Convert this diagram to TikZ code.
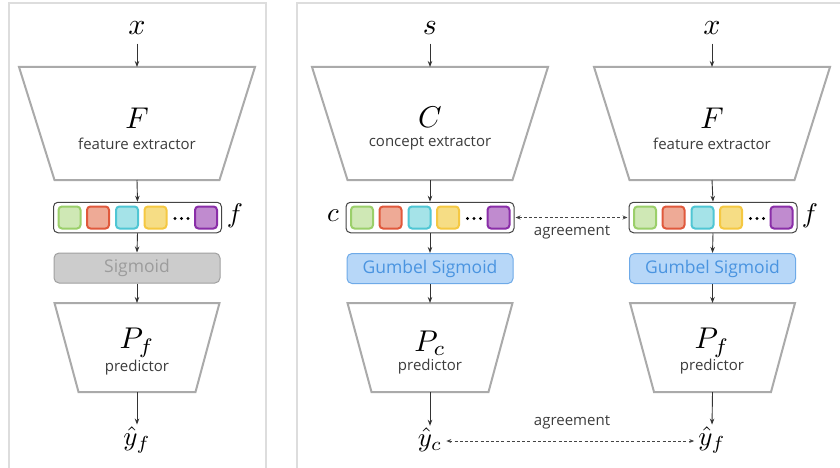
\documentclass[tikz,border=0pt]{standalone}
\usepackage{graphicx}
\usepackage{fontspec}
\setmainfont{Open Sans}
\usetikzlibrary{arrows.meta}
\definecolor{panelc}{HTML}{DDDDDD}
\definecolor{trapc}{HTML}{AAAAAA}
\definecolor{arrowc}{HTML}{333333}
\definecolor{textc}{HTML}{3C3C3C}
\definecolor{boxc}{HTML}{444444}
\definecolor{gfill}{HTML}{CFE8B5}\definecolor{gline}{HTML}{9BCF6A}
\definecolor{rfill}{HTML}{EEAA96}\definecolor{rline}{HTML}{E0593C}
\definecolor{cfill}{HTML}{A5E3E8}\definecolor{cline}{HTML}{4FC6D4}
\definecolor{yfill}{HTML}{F6DD85}\definecolor{yline}{HTML}{F5C842}
\definecolor{pfill}{HTML}{C08BCF}\definecolor{pline}{HTML}{8A2EA8}
\definecolor{sigfill}{HTML}{CCCCCC}\definecolor{sigline}{HTML}{A0A0A0}\definecolor{sigtext}{HTML}{9C9C9C}
\definecolor{gumfill}{HTML}{B7D7F8}\definecolor{gumline}{HTML}{6EAAE8}\definecolor{gumtext}{HTML}{4A94E0}
\newcommand\BigMath[1]{\scalebox{3}{$#1$}}
\newcommand\MidMath[1]{\scalebox{2.7}{$#1$}}
\tikzset{
  arr/.style={-{Stealth[length=6pt,width=4.5pt]}, line width=0.9pt, draw=arrowc},
  dbl/.style={{Stealth[length=5pt,width=4pt]}-{Stealth[length=5pt,width=4pt]}, line width=0.8pt, draw=boxc, dash pattern=on 3pt off 2.2pt},
  trap/.style={draw=trapc, line width=2pt, fill=white, line join=miter},
  mathnode/.style={text=black, inner sep=0pt},
  lbl/.style={font=\fontsize{15}{17}\selectfont, text=textc, inner sep=0pt},
  vecbox/.style={draw=boxc, line width=1pt, rounded corners=4.5pt, minimum width=168pt, minimum height=30.5pt, fill=white, inner sep=0pt},
  sq/.style={rounded corners=3.5pt, line width=2pt, minimum size=22pt, inner sep=0pt},
  sigbox/.style={rounded corners=5pt, line width=1pt, minimum width=166pt, minimum height=30pt, inner sep=0pt, font=\fontsize{17.5}{20}\selectfont},
  plainsig/.style={sigbox, fill=sigfill, draw=sigline, text=sigtext},
  gumsig/.style={sigbox, fill=gumfill, draw=gumline, text=gumtext},
  panel/.style={draw=panelc, line width=1.5pt},
}
\newcommand\trapz[6]{%
  \draw[trap] (#2-#4,#3) -- (#2+#4,#3) -- (#2+#6,#5) -- (#2-#6,#5) -- cycle;
  \coordinate (#1t) at (#2,#3);
  \coordinate (#1b) at (#2,#5);
}
\newcommand\fvec[2]{%
  \node[vecbox] (#1) at (#2,217.5) {};
  \node[sq, fill=gfill, draw=gline] (#1g) at ([xshift=-68pt]#1.center) {};
  \node[sq, fill=rfill, draw=rline] (#1r) at ([xshift=-39.5pt]#1.center) {};
  \node[sq, fill=cfill, draw=cline] (#1c) at ([xshift=-10.5pt]#1.center) {};
  \node[sq, fill=yfill, draw=yline] (#1y) at ([xshift=18pt]#1.center) {};
  \node[sq, fill=pfill, draw=pline] (#1p) at ([xshift=68.5pt]#1.center) {};
  \foreach \dx in {37.5,44,50.5} \fill[black] ([xshift=\dx pt,yshift=-1pt]#1.center) circle (1.6pt);
}
\begin{document}
\begin{tikzpicture}[x=1pt,y=-1pt]
\useasboundingbox (0,0) rectangle (840,468);
\begin{scope}
\clip (0,0) rectangle (840,468);
\draw[panel] (9,3) rectangle (266,480);
\draw[panel] (297,3) rectangle (850,480);
\end{scope}

% ---------- left panel ----------
\node[mathnode] (xL) at (137,28) {\BigMath{x}};
\trapz{FL}{137}{67}{118}{180}{82.5}
\node[mathnode] (FLn) at (137,118) {\BigMath{F}};
\node[lbl] (FLl) at (137,144) {feature extractor};
\fvec{vL}{137.5}
\node[mathnode] (fL) at (235,216) {\MidMath{f}};
\node[plainsig] (sL) at (137,268) {Sigmoid};
\trapz{PL}{137}{303}{82.5}{392}{58.5}
\node[mathnode] (PLn) at (137,343) {\BigMath{P_f}};
\node[lbl] (PLl) at (137,368) {predictor};
\node[mathnode] (yL) at (137,440) {\MidMath{\hat{y}_f}};

\draw[arr, shorten <=9pt] (xL.south) -- (FLt);
\draw[arr] (FLb) -- (vL.north);
\draw[arr] (vL.south) -- (sL.north);
\draw[arr] (sL.south) -- (PLt);
\draw[arr, shorten >=2pt] (PLb) -- (yL.north);

% ---------- right panel: concept branch ----------
\node[mathnode] (sC) at (430,28) {\BigMath{s}};
\trapz{FC}{430}{67}{118}{180}{82.5}
\node[mathnode] (FCn) at (430,117) {\BigMath{C}};
\node[lbl] (FCl) at (430,143) {concept extractor};
\fvec{vC}{430}
\node[mathnode] (cC) at (333,216) {\MidMath{c}};
\node[gumsig] (sC2) at (430,268.5) {Gumbel Sigmoid};
\trapz{PC}{430}{303}{82.5}{392}{58.5}
\node[mathnode] (PCn) at (430,343) {\BigMath{P_c}};
\node[lbl] (PCl) at (430,367) {predictor};
\node[mathnode] (yC) at (430,440) {\MidMath{\hat{y}_c}};

\draw[arr, shorten <=9pt] (sC.south) -- (FCt);
\draw[arr] (FCb) -- (vC.north);
\draw[arr] (vC.south) -- (sC2.north);
\draw[arr] (sC2.south) -- (PCt);
\draw[arr, shorten >=2pt] (PCb) -- (yC.north);

% ---------- right panel: feature branch ----------
\node[mathnode] (xR) at (712,28) {\BigMath{x}};
\trapz{FR}{712}{67}{118}{180}{82.5}
\node[mathnode] (FRn) at (712,118) {\BigMath{F}};
\node[lbl] (FRl) at (712,144) {feature extractor};
\fvec{vR}{713}
\node[mathnode] (fR) at (810,216) {\MidMath{f}};
\node[gumsig] (sR) at (712.5,268.5) {Gumbel Sigmoid};
\trapz{PR}{712.5}{303}{82.5}{392}{58.5}
\node[mathnode] (PRn) at (712,343) {\BigMath{P_f}};
\node[lbl] (PRl) at (712,367) {predictor};
\node[mathnode] (yR) at (712,440) {\MidMath{\hat{y}_f}};

\draw[arr, shorten <=9pt] (xR.south) -- (FRt);
\draw[arr] (FRb) -- (vR.north);
\draw[arr] (vR.south) -- (sR.north);
\draw[arr] (sR.south) -- (PRt);
\draw[arr, shorten >=2pt] (PRb) -- (yR.north);

% ---------- agreements ----------
\draw[dbl, shorten <=1pt, shorten >=1pt] (vC.east) -- (vR.west);
\node[lbl] (ag1) at (572,232.5) {agreement};
\draw[dbl, shorten <=4pt, shorten >=4pt] ([yshift=-1pt]yC.east) -- ([yshift=-1pt]yR.west);
\node[lbl] (ag2) at (572,422.5) {agreement};
\end{tikzpicture}
\end{document}
